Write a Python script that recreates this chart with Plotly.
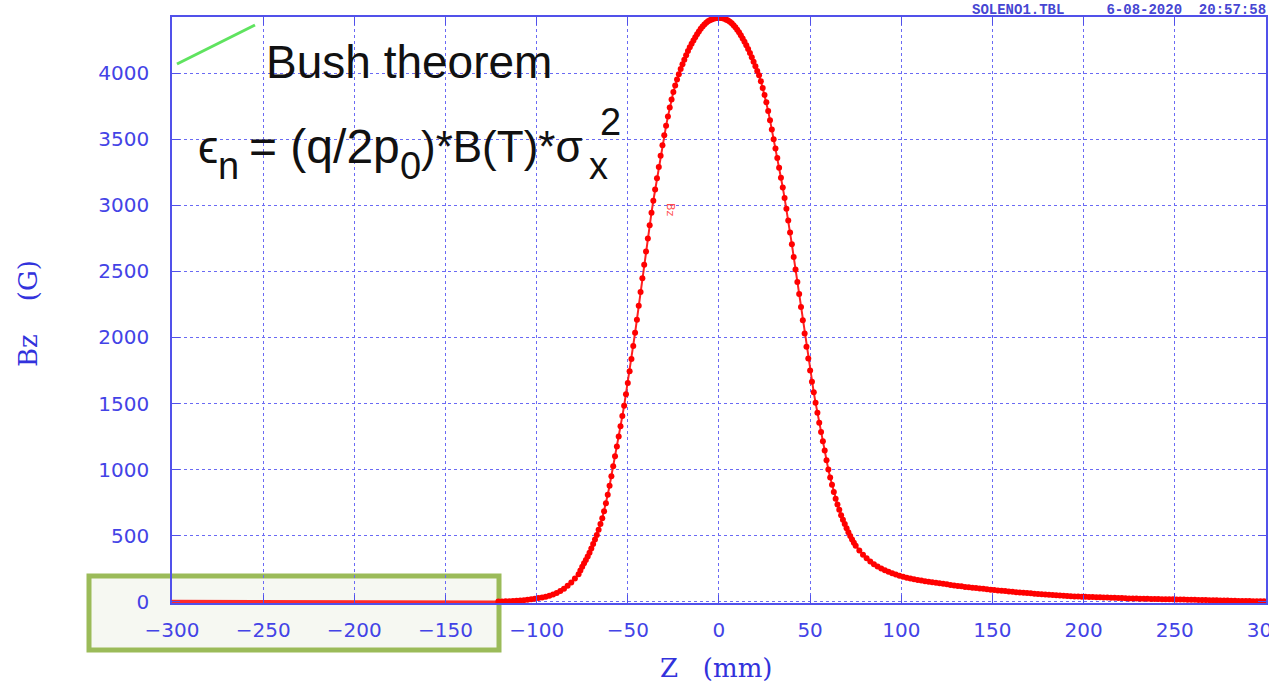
import plotly.graph_objects as go

# ---------------- data ----------------
# flat baseline drawn left of the measured profile
z_base = [-300, -171, -171, -121]
bz_base = [0, 0, -6, -6]

# left foot of the profile (2 mm sampling)
z_left_tail = list(range(-121, -76, 2))
bz_left_tail = [1, 2, 3, 4, 5, 7, 9, 11, 14, 18, 22, 27, 32, 38, 45, 54, 65, 80,
                98, 120, 146, 175, 208]

# central part (1 mm sampling, -76 .. 75)
z_core = list(range(-76, 76))
bz_core = [
    236, 265, 290, 315, 342, 370, 402, 436, 470, 505, 545, 588, 632, 685, 745,
    810, 878, 950, 1025, 1100, 1175, 1250, 1328, 1405, 1484, 1570, 1655, 1745,
    1838, 1935, 2035, 2135, 2240, 2345, 2448, 2550, 2650, 2750, 2850, 2945,
    3035, 3120, 3205, 3290, 3375, 3455, 3530, 3602, 3672, 3740, 3802, 3858,
    3908, 3953, 3993, 4032, 4068, 4103, 4137, 4168, 4197, 4223, 4248, 4272,
    4295, 4317, 4337, 4354, 4369, 4382, 4393, 4401, 4408, 4413, 4417, 4419,
    4420,
    4419, 4416, 4412, 4406, 4399, 4390, 4378, 4364, 4348, 4330, 4310, 4288,
    4264, 4238, 4212, 4184, 4154, 4122, 4088, 4053, 4017, 3985, 3940, 3888,
    3836, 3780, 3715, 3645, 3575, 3500, 3430, 3358, 3285, 3210, 3135, 3055,
    2975, 2885, 2795, 2705, 2610, 2515, 2420, 2330, 2230, 2130, 2030, 1930,
    1840, 1750, 1665, 1585, 1505, 1430, 1355, 1285, 1215, 1145, 1070, 1000,
    940, 885, 830, 780, 735, 695, 655, 620, 588, 556, 526, 497, 471, 446, 424,
]

# right tail (2 mm sampling)
z_right_tail = list(range(77, 300, 2))
bz_right_tail = [
    388, 356, 328, 304, 284, 266, 251, 238, 226, 216, 206, 197, 189, 182, 176,
    170, 165, 160, 155, 151, 147, 143, 139, 135, 131, 127, 123, 119, 116, 112,
    109, 106, 103, 100, 97, 94, 91, 88, 85, 82, 80, 77, 75, 72, 70, 67, 65, 63,
    60, 58, 56, 54, 52, 50, 48, 46, 45, 43, 42, 40, 39, 38, 37, 36, 35, 34, 33,
    32, 31, 30, 29, 28, 27, 26, 25, 24, 24, 23, 22, 22, 21, 20, 20, 19, 19, 18,
    18, 17, 16, 16, 15, 14, 14, 13, 12, 12, 11, 10, 10, 9, 8, 8, 7, 7, 6, 6, 5,
    5, 4, 4, 3, 3,
]

x_ticks = [-300, -250, -200, -150, -100, -50, 0, 50, 100, 150, 200, 250, 300]
y_ticks = [0, 500, 1000, 1500, 2000, 2500, 3000, 3500, 4000]

assert len(z_left_tail) == len(bz_left_tail)
assert len(z_core) == len(bz_core)
assert len(z_right_tail) == len(bz_right_tail)

z_all = z_left_tail + z_core + z_right_tail
bz_all = bz_left_tail + bz_core + bz_right_tail

# ---------------- layout helpers ----------------
W, H = 1269, 683
ML, MR, MT, MB = 172, 3, 17, 80
PW = W - ML - MR
PH = H - MT - MB


def px(xp):
    return (xp - ML) / PW


def py(yp):
    return (H - MB - yp) / PH


AXIS = "#5151ea"
GRID = "#6a6af4"
TICKC = "#4343e6"
TITLEC = "#3232dc"

fig = go.Figure()
fig.add_trace(go.Scatter(
    x=z_base, y=bz_base, mode="lines",
    line=dict(color="#ff2a2a", width=4),
    showlegend=False, hoverinfo="skip"))
fig.add_trace(go.Scatter(
    x=z_all, y=bz_all, mode="lines+markers",
    line=dict(color="#ff2020", width=2),
    marker=dict(color="#ff0000", size=6, line=dict(width=0)),
    showlegend=False, name="Bz"))

axis_common = dict(
    showgrid=True, gridcolor=GRID, griddash="dot", gridwidth=1,
    showline=True, linecolor=AXIS, linewidth=1.5, mirror="ticks",
    ticks="inside", ticklen=8, tickcolor=AXIS, tickwidth=1,
    zeroline=False, ticklabeloverflow="allow", automargin=False,
    tickfont=dict(family="DejaVu Sans", size=20, color=TICKC),
)

fig.update_layout(
    width=W, height=H, autosize=False,
    margin=dict(l=ML, r=MR, t=MT, b=MB, pad=0, autoexpand=False),
    paper_bgcolor="white", plot_bgcolor="white",
    showlegend=False,
    xaxis=dict(range=[-300, 300.05], tickvals=x_ticks, ticklabelstandoff=8,
               **axis_common),
    yaxis=dict(range=[-10, 4426], tickvals=y_ticks, ticklabelstandoff=17,
               **axis_common),
)

shapes = [
    # white inset behind the formula
    dict(type="rect", xref="paper", yref="paper",
         x0=px(173), x1=px(636), y0=py(200), y1=py(18),
         fillcolor="white", line=dict(width=0), layer="between"),
    # green stroke in the inset
    dict(type="line", xref="paper", yref="paper",
         x0=px(177), y0=py(64), x1=px(255), y1=py(25),
         line=dict(color="#5fe35f", width=3), layer="above"),
    # green highlight box at the lower left
    dict(type="rect", xref="paper", yref="paper",
         x0=px(89), x1=px(499), y0=py(650), y1=py(576),
         fillcolor="#f6f8f2", line=dict(color="#9bbb59", width=5),
         layer="below"),
]
fig.update_layout(shapes=shapes)

BLACK = "#111111"
FF = "Liberation Sans"
MAIN = 46
SUB = 38


def ann(text, xp, yp, size, color=BLACK, family=FF, xanchor="left",
        yanchor="middle", angle=0):
    return dict(text=text, xref="paper", yref="paper", x=px(xp), y=py(yp),
                xanchor=xanchor, yanchor=yanchor, showarrow=False,
                textangle=angle, font=dict(family=family, size=size, color=color))


annotations = [
    ann("Bush theorem", 264, 62, MAIN),
    ann("\u03f5", 196, 147, MAIN),
    ann("n", 216, 166, SUB),
    ann("= (q/2p", 247, 147, 48),
    ann("0", 398, 166, SUB),
    ann(")*B(T)*\u03c3", 419, 147, 44),
    ann("x", 587, 166, SUB),
    ann("2", 598, 122, SUB),
    # small curve label
    ann("Bz", 671, 210, 11, color="#ff4a4a", family="DejaVu Sans",
        xanchor="center", angle=90),
    # header
    ann("<b>SOLENO1.TBL\u00a0\u00a0\u00a0\u00a0\u00a06-08-2020\u00a0\u00a020:57:58</b>",
        1268, 10, 14, color="#4646d2", family="Liberation Mono", xanchor="right"),
    # axis titles
    ann("Z\u00a0\u00a0\u00a0(mm)", 716, 668, 26, color=TITLEC,
        family="DejaVu Serif", xanchor="center"),
    ann("Bz\u00a0\u00a0\u00a0\u00a0(G)", 28, 314, 26, color=TITLEC,
        family="DejaVu Serif", xanchor="center", angle=-90),
]
fig.update_layout(annotations=annotations)

fig.write_html("out.html", config={"displayModeBar": False})
